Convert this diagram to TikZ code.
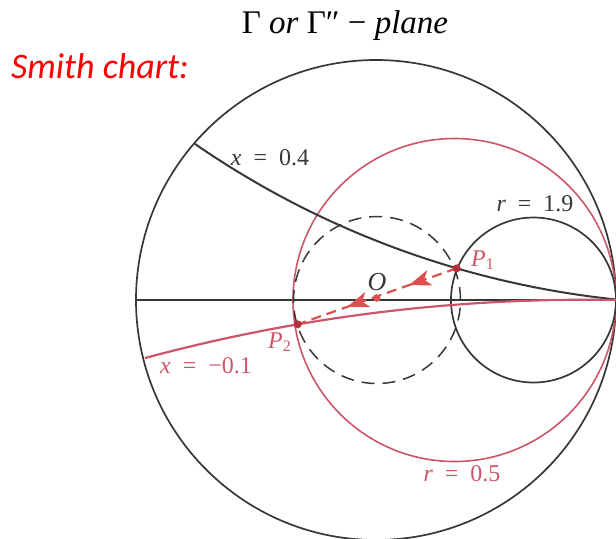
\documentclass[tikz,border=0pt]{standalone}
\usepackage{fontspec}
\setmainfont{Liberation Serif}
\newfontfamily\carl{Carlito}
\usetikzlibrary{arrows.meta,decorations.markings}
\definecolor{chartred}{RGB}{205,85,105}
\definecolor{arrred}{RGB}{222,80,80}
\definecolor{dotred}{RGB}{185,45,55}
\definecolor{ink}{RGB}{55,55,55}
\newcommand{\eqsp}{\hspace{0.5em}}
\begin{document}
\begin{tikzpicture}[x=0.5pt,y=0.5pt,
  chartline/.style={draw=ink,line width=0.85pt},
  redline/.style={draw=chartred,line width=0.8pt},
  lab/.style={font=\fontsize{12}{14}\selectfont,inner sep=0pt},
  dot/.style={circle,fill=#1,inner sep=0pt,minimum size=4pt}]
\useasboundingbox (0,0) rectangle (616,-538);
\coordinate (O) at (376,-300);
\coordinate (E) at (616,-300);
\coordinate (W) at (136,-300);
\coordinate (R5) at (454.5,-300);
\coordinate (R19) at (533.5,-300);
\coordinate (DC) at (377,-300);
\coordinate (P1) at (456.7,-268.3);
\coordinate (P2) at (297.7,-324.3);
\coordinate (Cx4) at (710,602.6);
\coordinate (Cxm) at (584.8,-1988);
% unit circle and real axis
\draw[chartline] (O) circle[radius=120pt];
\draw[chartline,line width=0.6pt] (W) -- (E);
% r circles
\draw[redline] (R5) circle[radius=80.75pt];
\draw[chartline] (R19) circle[radius=41.25pt];
% dashed constant |Gamma| circle
\draw[ink,dash pattern=on 6.5pt off 4pt,line width=0.75pt] (DC) circle[radius=41.75pt];
% x = 0.4 arc
\draw[chartline,line width=1pt] ([shift={(235.4:453.5pt)}]Cx4) arc[start angle=235.4,end angle=264.05,radius=453.5pt];
% x = -0.1 arc
\draw[redline,line width=1.1pt] ([shift={(105.1:844.15pt)}]Cxm) arc[start angle=105.1,end angle=88.94,radius=844.15pt];
% dashed arrow P1 -> O -> P2
\draw[arrred,dash pattern=on 5pt off 3pt,line width=1.1pt,postaction={decorate},
  decoration={markings,
    mark=at position 0.30 with {\arrow{Stealth[length=11pt,width=8pt,inset=3pt]}},
    mark=at position 0.69 with {\arrow{Stealth[length=11pt,width=8pt,inset=3pt]}}}] (P1) -- (P2);
% points
\node[dot=dotred] (p1dot) at (P1) {};
\node[dot=dotred] (p2dot) at (P2) {};
\node[dot=arrred,minimum size=3.8pt] (odot) at (376.7,-298) {};
% labels
\node[lab,text=chartred] (p1l) at (483,-260) {\textit{P}\textsubscript{1}};
\node[lab,text=chartred] (p2l) at (280,-342) {\textit{P}\textsubscript{2}};
\node[lab,text=ink,font=\fontsize{13}{15}\selectfont] (ol) at (377,-282) {\textit{O}};
\node[lab,text=ink] (x4l) at (270,-157.5) {\textit{x}\eqsp=\eqsp0.4};
\node[lab,text=ink] (r19l) at (535,-204) {\textit{r}\eqsp=\eqsp1.9};
\node[lab,text=chartred] (r5l) at (462,-474) {\textit{r}\eqsp=\eqsp0.5};
\node[lab,text=chartred] (xml) at (206,-366) {\textit{x}\eqsp=\eqsp−0.1};
% titles
\node[inner sep=0pt,font=\fontsize{16.5}{18}\selectfont] (title) at (345,-26) {Γ \textit{or} Γ″ − \textit{plane}};
\node[inner sep=0pt,text=red,font=\carl\itshape\fontsize{18}{20}\selectfont] (smith) at (100,-66) {Smith chart:};
\end{tikzpicture}
\end{document}
